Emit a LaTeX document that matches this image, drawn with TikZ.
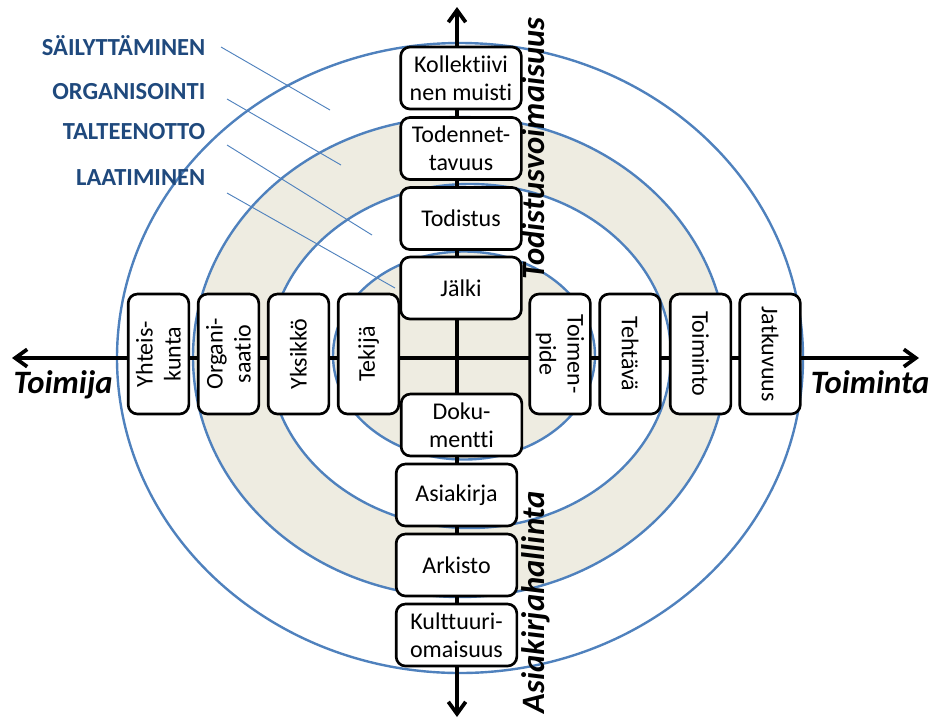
\documentclass[tikz,border=0pt]{standalone}
\usepackage{fontspec}
\setmainfont{Carlito}[RawFeature=-liga]
\usepackage{pgf,tikz}
\usetikzlibrary{arrows.meta}
\definecolor{ringblue}{RGB}{79,129,189}
\definecolor{labelblue}{RGB}{31,73,125}
\definecolor{ringfill}{RGB}{238,236,225}

\begin{document}
\begin{tikzpicture}[x=0.75pt,y=0.75pt,yscale=-1,
  ring/.style={draw=ringblue,line width=1.8pt},
  leader/.style={draw=ringblue,line width=0.7pt},
  axis/.style={line width=2.8pt,{Straight Barb[length=9pt,width=13pt]}-{Straight Barb[length=9pt,width=13pt]}},
  stepbox/.style={draw,fill=white,line width=2pt,rounded corners=7pt,align=center,inner sep=1pt,
    minimum width=90.5pt,minimum height=46.5pt,font=\fontsize{18}{21}\selectfont},
  leftbox/.style={stepbox,minimum width=90pt,minimum height=45.5pt,rotate=90},
  rightbox/.style={stepbox,minimum width=90pt,minimum height=45.5pt,rotate=-90},
  phase/.style={text=labelblue,anchor=base east,font=\fontsize{18.4}{21}\selectfont\bfseries},
  axislabel/.style={font=\fontsize{24.5}{27}\selectfont\bfseries\itshape}]
\useasboundingbox (0,0) rectangle (935,719);

%Shape: Ring fills
\fill[ringfill,even odd rule] (460,357) ellipse [x radius=267, y radius=240]
  (470,356) ellipse [x radius=201, y radius=172];
\fill[ringfill] (464,355.5) ellipse [x radius=131, y radius=104];

%Shape: Ellipses
\draw[ring] (460,358) ellipse [x radius=343, y radius=315];
\draw[ring] (460,357) ellipse [x radius=267, y radius=240];
\draw[ring] (470,356) ellipse [x radius=201, y radius=172];
\draw[ring] (464,355.5) ellipse [x radius=131, y radius=104];

% Text Node
\node[phase] (sail) at (210,55) {SÄILYTTÄMINEN};
\node[phase] (orga) at (210,99) {ORGANISOINTI};
\node[phase] (talt) at (210,139) {TALTEENOTTO};
\node[phase] (laat) at (210,185) {LAATIMINEN};

%Shape: Leader lines
\coordinate (sailA) at (221,47);
\coordinate (sailB) at (330,110);
\coordinate (orgaA) at (227,99);
\coordinate (orgaB) at (341,165);
\coordinate (taltA) at (227,145);
\coordinate (taltB) at (372,235);
\coordinate (laatA) at (227,193);
\coordinate (laatB) at (395,288);
\draw[leader] (sailA) -- (sailB);
\draw[leader] (orgaA) -- (orgaB);
\draw[leader] (taltA) -- (taltB);
\draw[leader] (laatA) -- (laatB);

%Shape: Axes
\coordinate (top) at (457,7);
\coordinate (bottom) at (457,717);
\coordinate (left) at (12,358);
\coordinate (right) at (919,358);
\draw[axis] (bottom) -- (top);
\draw[axis] (left) -- (right);

% Text Node
\node[stepbox] (kollektiivi) at (461,78) {Kollektiivi\\nen muisti};
\node[stepbox] (todennettavuus) at (461,148.5) {Todennet-\\tavuus};
\node[stepbox] (todistus) at (461,218.5) {Todistus};
\node[stepbox] (jalki) at (461,288) {Jälki};
\node[stepbox] (dokumentti) at (461.5,425) {Doku-\\mentti};
\node[stepbox] (asiakirja) at (456.5,495) {Asiakirja};
\node[stepbox] (arkisto) at (456.5,565) {Arkisto};
\node[stepbox] (kulttuuri) at (456.5,635) {Kulttuuri-\\omaisuus};

% Text Node
\node[leftbox] (yhteiskunta) at (158.5,354) {Yhteis-\\kunta};
\node[leftbox] (organisaatio) at (228.5,354) {Organi-\\saatio};
\node[leftbox] (yksikko) at (298.5,354) {Yksikkö};
\node[leftbox] (tekija) at (368.5,354) {Tekijä};
\node[rightbox] (toimenpide) at (560,354) {Toimen-\\pide};
\node[rightbox] (tehtava) at (630,354) {Tehtävä};
\node[rightbox] (toiminto) at (700.5,354) {Toiminto};
\node[rightbox] (jatkuvuus) at (770,354) {Jatkuvuus};

% Text Node
\node[axislabel,anchor=base west] (toimija) at (9,393) {Toimija};
\node[axislabel,anchor=base east] (toiminta) at (934,393) {Toiminta};
\node[axislabel,anchor=base west,rotate=90] (todistusvoima) at (544,284) {Todistusvoimaisuus};
\node[axislabel,anchor=base west,rotate=90] (hallinta) at (544,718) {Asiakirjahallinta};

\end{tikzpicture}
\end{document}
